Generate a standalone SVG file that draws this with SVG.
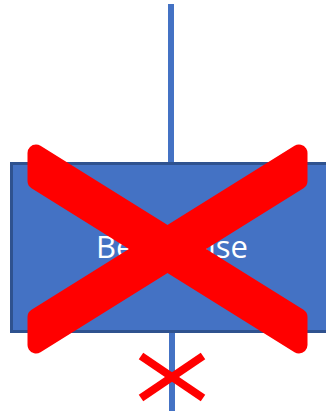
<svg xmlns="http://www.w3.org/2000/svg" width="326" height="411" viewBox="0 0 326 411">
<style>
.conn{stroke:#4472C4;stroke-width:6;fill:none}
.box{fill:#4472C4;stroke:#2F528F;stroke-width:3}
.lbl{font-family:"Open Sans","Liberation Sans",sans-serif;font-size:31px;fill:#FFFFFF}
.cross{fill:#FF0000;stroke:#FF0000;stroke-linejoin:round;stroke-width:17}
.small{stroke:#FF0000;stroke-width:8;fill:none}
</style>
<rect width="326" height="411" fill="#FFFFFF"/>
<g id="connectors">
<line class="conn" x1="171" y1="4" x2="171" y2="163"/>
<line class="conn" x1="172" y1="332" x2="172" y2="411"/>
</g>
<g id="node-box">
<rect class="box" x="11.5" y="163.5" width="318" height="168"/>
<text class="lbl" x="96" y="258">Bes</text>
<text class="lbl" x="248" y="258" text-anchor="end">eise</text>
</g>
<g id="big-cross">
<polygon class="cross" points="36,153 299,317 299,345 36,181"/>
<polygon class="cross" points="36,317 299,153 299,181 36,345"/>
</g>
<g id="small-cross">
<line class="small" x1="141" y1="356" x2="203" y2="398"/>
<line class="small" x1="141" y1="398" x2="203" y2="356"/>
</g>
</svg>
